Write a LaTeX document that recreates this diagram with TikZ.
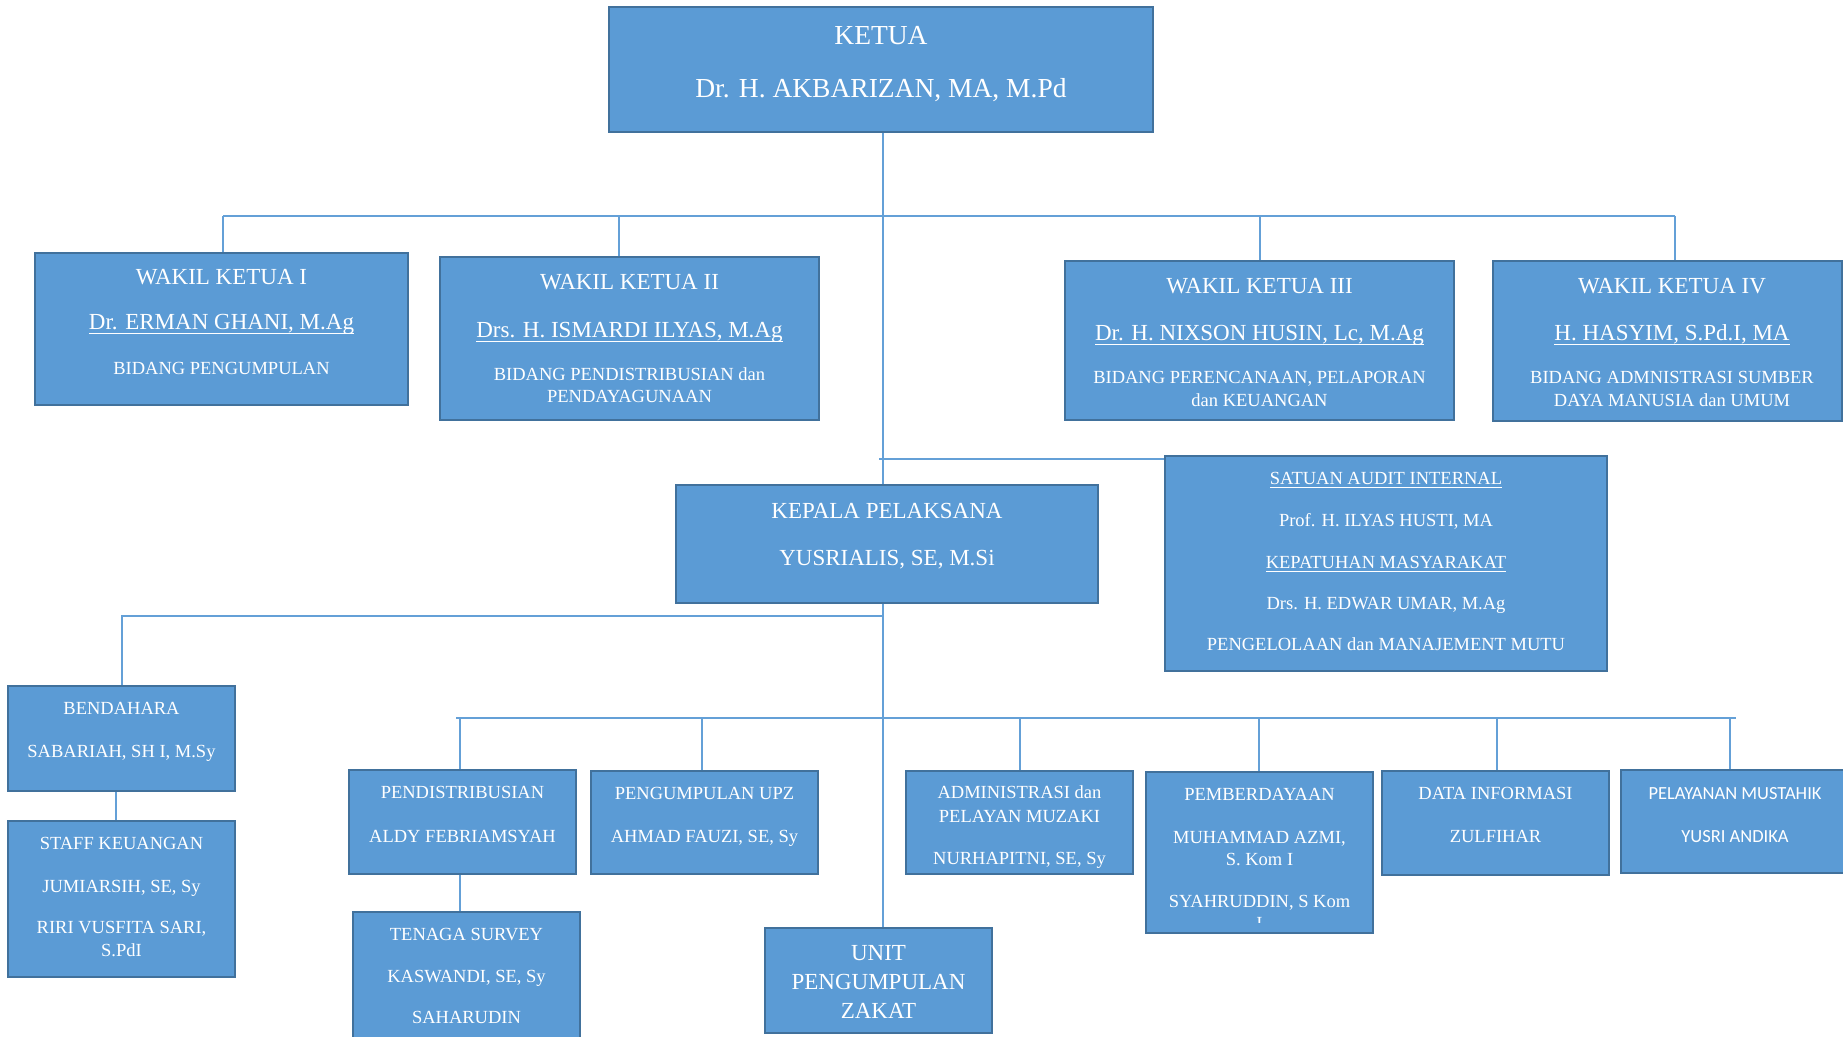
\documentclass[tikz,border=0pt]{standalone}
\usepackage{fontspec}
\setmainfont{Liberation Serif}
\newfontfamily\calfont{Carlito}
\usetikzlibrary{calc}
\definecolor{boxfill}{RGB}{91,155,213}
\definecolor{boxline}{RGB}{65,113,156}
\definecolor{linkc}{RGB}{100,160,215}
\pgfdeclarelayer{bg}
\pgfsetlayers{bg,main}
\newcommand\ulx[1]{\setbox0\hbox{#1}\rlap{\rule[-0.22em]{\wd0}{0.06em}}\box0}
\tikzset{
 orgbox/.style={draw=boxline, line width=2.4pt, fill=boxfill, inner sep=0pt, outer sep=0pt},
 tx/.style={text=white, anchor=base, inner sep=0pt, outer sep=0pt},
 fa/.style={font=\fontsize{27.5}{30}\selectfont},
 fb/.style={font=\fontsize{23}{26}\selectfont},
 fc/.style={font=\fontsize{18.5}{21}\selectfont},
 fd/.style={font=\calfont\fontsize{18.5}{21}\selectfont},
 link/.style={draw=linkc, line width=1.3pt},
}
\newcommand\orgbx[5]{\node[orgbox, minimum width={#4-#2}, minimum height={#5-#3}] (#1) at ({(#2+#4)/2},{(#3+#5)/2}) {};}
\newcommand\txtline[5]{\node[tx,#2] (#1) at (#3,#4) {#5};}
\begin{document}
\begin{tikzpicture}[x=1pt,y=-1pt]
\begin{pgfonlayer}{bg}
\fill[white] (0,0) rectangle (1843,1036);
\end{pgfonlayer}
\useasboundingbox (0,0) rectangle (1843,1036);
\clip (0,0) rectangle (1843,1036);

% boxes
\orgbx{ketua}{609}{7}{1153}{132}
\orgbx{wk1}{35}{253}{408}{405}
\orgbx{wk2}{440}{257}{819}{420}
\orgbx{wk3}{1065}{261}{1454}{420}
\orgbx{wk4}{1493}{261}{1842}{421}
\orgbx{kep}{676}{485}{1098}{603}
\orgbx{sat}{1165}{456}{1607}{671}
\orgbx{bend}{8}{686}{235}{791}
\orgbx{staff}{8}{821}{235}{977}
\orgbx{pd}{349}{770}{576}{874}
\orgbx{upz}{591}{771}{818}{874}
\orgbx{adm}{906}{771}{1133}{874}
\orgbx{pb}{1146}{772}{1373}{933}
\orgbx{data}{1382}{771}{1609}{875}
\orgbx{pm}{1621}{770}{1846}{873}
\orgbx{ts}{353}{912}{580}{1045}
\orgbx{unit}{765}{928}{992}{1033}

% texts
\txtline{ketua1}{fa}{881}{44}{KETUA}
\txtline{ketua2}{fa}{881}{97}{Dr. H. AKBARIZAN, MA, M.Pd}

\txtline{wk1a}{fb}{221.5}{284}{WAKIL KETUA I}
\txtline{wk1b}{fb}{221.5}{329}{\ulx{Dr. ERMAN GHANI, M.Ag}}
\txtline{wk1c}{fc}{221.5}{374}{BIDANG PENGUMPULAN}

\txtline{wk2a}{fb}{629.5}{289}{WAKIL KETUA II}
\txtline{wk2b}{fb}{629.5}{337}{\ulx{Drs. H. ISMARDI ILYAS, M.Ag}}
\txtline{wk2c}{fc}{629.5}{380}{BIDANG PENDISTRIBUSIAN dan}
\txtline{wk2d}{fc}{629.5}{402}{PENDAYAGUNAAN}

\txtline{wk3a}{fb}{1259.5}{293}{WAKIL KETUA III}
\txtline{wk3b}{fb}{1259.5}{340}{\ulx{Dr. H. NIXSON HUSIN, Lc, M.Ag}}
\txtline{wk3c}{fc}{1259.5}{383}{BIDANG PERENCANAAN, PELAPORAN}
\txtline{wk3d}{fc}{1259.5}{406}{dan KEUANGAN}

\txtline{wk4a}{fb}{1672}{293}{WAKIL KETUA IV}
\txtline{wk4b}{fb}{1672}{340}{\ulx{H. HASYIM, S.Pd.I, MA}}
\txtline{wk4c}{fc}{1672}{383}{BIDANG ADMNISTRASI SUMBER}
\txtline{wk4d}{fc}{1672}{406}{DAYA MANUSIA dan UMUM}

\txtline{kep1}{fb}{887}{518}{KEPALA PELAKSANA}
\txtline{kep2}{fb}{887}{565}{YUSRIALIS, SE, M.Si}

\txtline{sat1}{fc}{1386}{484}{\ulx{SATUAN AUDIT INTERNAL}}
\txtline{sat2}{fc}{1386}{526}{Prof. H. ILYAS HUSTI, MA}
\txtline{sat3}{fc}{1386}{568}{\ulx{KEPATUHAN MASYARAKAT}}
\txtline{sat4}{fc}{1386}{609}{Drs. H. EDWAR UMAR, M.Ag}
\txtline{sat5}{fc}{1386}{650}{PENGELOLAAN dan MANAJEMENT MUTU}

\txtline{bend1}{fc}{121.5}{714}{BENDAHARA}
\txtline{bend2}{fc}{121.5}{757}{SABARIAH, SH I, M.Sy}

\txtline{staff1}{fc}{121.5}{849}{STAFF KEUANGAN}
\txtline{staff2}{fc}{121.5}{892}{JUMIARSIH, SE, Sy}
\txtline{staff3}{fc}{121.5}{933}{RIRI VUSFITA SARI,}
\txtline{staff4}{fc}{121.5}{956}{S.PdI}

\txtline{pd1}{fc}{462.5}{798}{PENDISTRIBUSIAN}
\txtline{pd2}{fc}{462.5}{842}{ALDY FEBRIAMSYAH}

\txtline{upz1}{fc}{704.5}{799}{PENGUMPULAN UPZ}
\txtline{upz2}{fc}{704.5}{842}{AHMAD FAUZI, SE, Sy}

\txtline{adm1}{fc}{1019.5}{798}{ADMINISTRASI dan}
\txtline{adm2}{fc}{1019.5}{822}{PELAYAN MUZAKI}
\txtline{adm3}{fc}{1019.5}{864}{NURHAPITNI, SE, Sy}

\txtline{pb1}{fc}{1259.5}{800}{PEMBERDAYAAN}
\txtline{pb2}{fc}{1259.5}{843}{MUHAMMAD AZMI,}
\txtline{pb3}{fc}{1259.5}{865}{S. Kom I}
\txtline{pb4}{fc}{1259.5}{907}{SYAHRUDDIN, S Kom}
\begin{scope}
\clip (1146,900) rectangle (1373,922);
\txtline{pb5}{fc}{1259.5}{929}{I}
\end{scope}

\txtline{data1}{fc}{1495.5}{799}{DATA INFORMASI}
\txtline{data2}{fc}{1495.5}{842}{ZULFIHAR}

\txtline{pm1}{fd}{1735}{799}{PELAYANAN MUSTAHIK}
\txtline{pm2}{fd}{1735}{842}{YUSRI ANDIKA}

\txtline{ts1}{fc}{466.5}{940}{TENAGA SURVEY}
\txtline{ts2}{fc}{466.5}{982}{KASWANDI, SE, Sy}
\txtline{ts3}{fc}{466.5}{1023}{SAHARUDIN}

\txtline{unit1}{fb}{878.5}{960}{UNIT}
\txtline{unit2}{fb}{878.5}{989}{PENGUMPULAN}
\txtline{unit3}{fb}{878.5}{1018}{ZAKAT}

% connectors
\begin{pgfonlayer}{bg}
\coordinate (spine) at (883,0);
\draw[link] (ketua.south -| spine) -- (unit.north -| spine);
\coordinate (tb1) at (223,216);
\coordinate (tb2) at (619,216);
\coordinate (tb3) at (1260,216);
\coordinate (tb4) at (1675,216);
\draw[link] (tb1) -- (tb4);
\draw[link] (tb1) -- (tb1 |- wk1.north);
\draw[link] (tb2) -- (tb2 |- wk2.north);
\draw[link] (tb3) -- (tb3 |- wk3.north);
\draw[link] (tb4) -- (tb4 |- wk4.north);
\coordinate (sj) at (879,459);
\draw[link] (sj) -- (sj -| sat.west);
\coordinate (lb1) at (122,616);
\coordinate (lb2) at (883,616);
\draw[link] (lb2) -- (lb1) -- (lb1 |- bend.north);
\coordinate (bs) at (116,0);
\draw[link] (bend.south -| bs) -- (staff.north -| bs);
\coordinate (q0) at (456,718);
\coordinate (q1) at (460,718);
\coordinate (q2) at (702,718);
\coordinate (q3) at (1020,718);
\coordinate (q4) at (1259,718);
\coordinate (q5) at (1497,718);
\coordinate (q6) at (1730,718);
\coordinate (q7) at (1736,718);
\draw[link] (q0) -- (q7);
\draw[link] (q1) -- (q1 |- pd.north);
\draw[link] (q2) -- (q2 |- upz.north);
\draw[link] (q3) -- (q3 |- adm.north);
\draw[link] (q4) -- (q4 |- pb.north);
\draw[link] (q5) -- (q5 |- data.north);
\draw[link] (q6) -- (q6 |- pm.north);
\draw[link] (pd.south -| q1) -- (ts.north -| q1);
\end{pgfonlayer}
\end{tikzpicture}
\end{document}
